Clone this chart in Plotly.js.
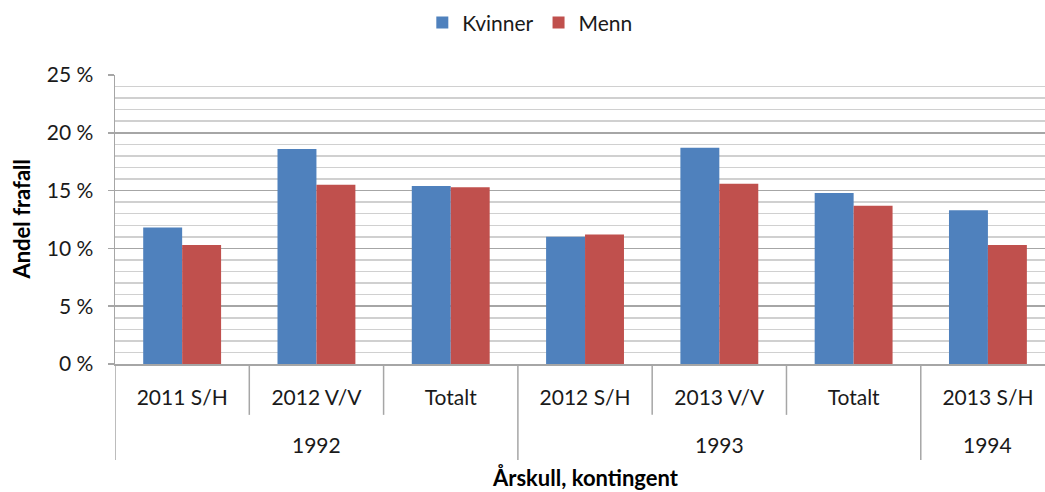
<!DOCTYPE html>
<html><head><meta charset="utf-8">
<script src="https://cdn.plot.ly/plotly-3.0.1.min.js"></script>
<style>html,body{margin:0;padding:0;overflow:hidden;background:#fff}</style>
</head><body><div id="chart" style="width:1045px;height:492px"></div>
<script>
const outerCats = ['1992','1992','1992','1993','1993','1993','1994'];
const innerCats = ['2011 S/H','2012 V/V','Totalt','2012 S/H','2013 V/V','Totalt','2013 S/H'];
const kvinner = [0.118,0.186,0.154,0.110,0.187,0.148,0.133];
const menn    = [0.103,0.155,0.153,0.112,0.156,0.137,0.103];
const yTickVals = [0,0.05,0.10,0.15,0.20,0.25];
const yTickText = ['0 %','5 %','10 %','15 %','20 %','25 %'];

const FONT = 'Lato, "Open Sans", sans-serif';
const TXT = '#1a1a1a';
const GRID = '#a6a6a6';
const idx = innerCats.map((_, i) => i);

const traces = [
  {type:'bar', name:'Kvinner', x:idx, y:kvinner, marker:{color:'#4F81BD'}},
  {type:'bar', name:'Menn', x:idx, y:menn, marker:{color:'#C0504D'}}
];

// dividers & group labels from the category arrays
const shapes = [];
const annotations = [];
const divLine = {color:GRID, width:1.5};
shapes.push({type:'line', xref:'x', yref:'paper', x0:-0.5, x1:-0.5, y0:0, y1:-0.332, line:divLine});
let start = 0;
for (let i = 1; i <= innerCats.length; i++) {
  if (i === innerCats.length || outerCats[i] !== outerCats[i-1]) {
    shapes.push({type:'line', xref:'x', yref:'paper', x0:i-0.5, x1:i-0.5, y0:0, y1:-0.332, line:divLine});
    annotations.push({xref:'x', yref:'paper', x:(start + i - 1)/2, y:-0.28, yanchor:'middle',
      text:outerCats[i-1], showarrow:false, font:{family:FONT, size:21, color:TXT}});
    start = i;
  } else {
    shapes.push({type:'line', xref:'x', yref:'paper', x0:i-0.5, x1:i-0.5, y0:0, y1:-0.176, line:divLine});
  }
}
annotations.push({xref:'x', yref:'paper', x:3, y:-0.394, yanchor:'middle', showarrow:false,
  text:'<b>Årskull, kontingent</b>', font:{family:FONT, size:22, color:'#000'}});
annotations.push({xref:'paper', yref:'paper', x:-0.101, xanchor:'center', y:0.5, yanchor:'middle',
  textangle:-90, showarrow:false, text:'<b>Andel frafall</b>', font:{family:FONT, size:22, color:'#000'}});

const layout = {
  width:1045, height:492,
  margin:{l:115, r:0, t:75, b:128},
  paper_bgcolor:'#fff', plot_bgcolor:'#fff',
  font:{family:FONT, size:21, color:TXT},
  barmode:'group', bargap:0.42, bargroupgap:0,
  showlegend:true,
  legend:{orientation:'h', xref:'container', yref:'container', x:0.507, xanchor:'center', y:0.995, yanchor:'top',
    font:{family:FONT, size:21, color:TXT}, itemwidth:30, traceorder:'normal'},
  xaxis:{type:'linear', range:[-0.5, 6.425], showline:true, linecolor:GRID, linewidth:1.5,
    tickvals:idx, ticktext:innerCats, ticks:'', showgrid:false, zeroline:false,
    ticklabelstandoff:14,
    tickfont:{family:FONT, size:21, color:TXT}},
  yaxis:{range:[0,0.25], tickvals:yTickVals, ticktext:yTickText, showline:true, linecolor:GRID, linewidth:1.5,
    ticks:'outside', ticklen:6, tickcolor:GRID, tickwidth:1.5, ticklabelstandoff:10,
    gridcolor:GRID, gridwidth:1.5, zeroline:false,
    minor:{dtick:0.01, showgrid:true, gridcolor:'#d0d0d0', gridwidth:1.5},
    tickfont:{family:FONT, size:21, color:TXT}},
  shapes:shapes,
  annotations:annotations
};
Plotly.newPlot('chart', traces, layout, {displayModeBar:false, staticPlot:true});
</script></body></html>
